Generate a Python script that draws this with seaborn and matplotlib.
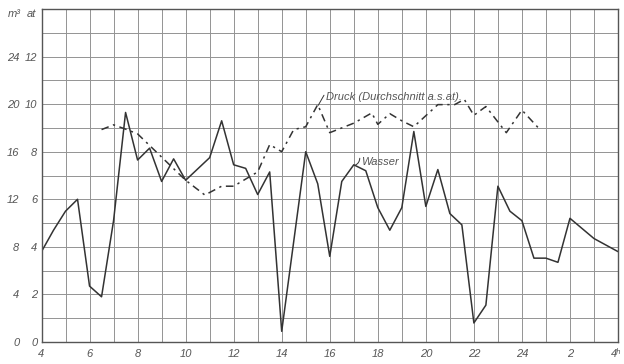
import matplotlib
matplotlib.use("Agg")
import matplotlib.pyplot as plt
import matplotlib.transforms as mtransforms
import seaborn as sns
import pandas as pd
import numpy as np

# ---- data -------------------------------------------------------------
# hours (continuous from 4 h of one day to 4 h of the next; 25 = 1 h, 28 = 4 h)
wasser_h = [4.0, 4.5, 5.0, 5.5, 6.0, 6.5, 7.0, 7.5, 8.0, 8.5, 9.0, 9.5, 10.0,
            11.0, 11.5, 12.0, 12.5, 13.0, 13.5, 14.0, 15.0, 15.5, 16.0, 16.5,
            17.0, 17.5, 18.0, 18.5, 19.0, 19.5, 20.0, 20.5, 21.0, 21.5, 22.0,
            22.5, 23.0, 23.5, 24.0, 24.5, 25.0, 25.5, 26.0, 27.0, 28.0]
wasser_m3 = [7.6, 9.4, 11.0, 12.0, 4.7, 3.8, 10.2, 19.3, 15.3, 16.3, 13.5, 15.4, 13.6,
             15.5, 18.6, 14.9, 14.6, 12.4, 14.3, 0.9, 16.0, 13.3, 7.2, 13.5,
             14.9, 14.4, 11.3, 9.4, 11.3, 17.7, 11.4, 14.5, 10.8, 9.85, 1.6,
             3.1, 13.1, 11.0, 10.2, 7.05, 7.05, 6.7, 10.4, 8.7, 7.6]

druck_h = [6.5, 7.0, 7.5, 8.0, 10.0, 10.8, 11.5, 12.0, 13.0, 13.5, 14.0, 14.5,
           15.0, 15.5, 16.0, 17.0, 17.75, 18.0, 18.5, 19.0, 19.5, 20.5, 21.2,
           21.6, 22.0, 22.5, 23.35, 24.0, 24.75]
druck_at = [8.93, 9.13, 8.95, 8.75, 6.8, 6.18, 6.55, 6.55, 7.15, 8.3, 8.0, 8.93,
            9.05, 9.98, 8.8, 9.2, 9.63, 9.15, 9.6, 9.3, 9.05, 9.98, 9.98,
            10.2, 9.53, 9.9, 8.8, 9.75, 8.93]

x_ticks = [4, 6, 8, 10, 12, 14, 16, 18, 20, 22, 24, 26, 28]
x_labels = ["4", "6", "8", "10", "12", "14", "16", "18", "20", "22", "24", "2", "4ʰ"]
m3_ticks = [0, 4, 8, 12, 16, 20, 24]
at_ticks = [0, 2, 4, 6, 8, 10, 12]

df_w = pd.DataFrame({"h": wasser_h, "v": wasser_m3})
df_d = pd.DataFrame({"h": druck_h, "v": druck_at})

# ---- style ------------------------------------------------------------
sns.set_theme(style="white")
plt.rcParams["font.family"] = ["Liberation Sans", "DejaVu Sans"]
txt_col = "#555555"
line_col = "#333333"
grid_col = "#939393"

fig = plt.figure(figsize=(6.24, 3.64), dpi=100)
ax = fig.add_axes([41.5 / 624, 22 / 364, (618 - 41.5) / 624, (342 - 9) / 364])
ax2 = ax.twinx()

sns.lineplot(data=df_w, x="h", y="v", ax=ax, color=line_col, linewidth=1.1,
             sort=False, estimator=None)
sns.lineplot(data=df_d, x="h", y="v", ax=ax2, color=line_col, linewidth=1.1,
             sort=False, estimator=None, dashes=False)
for l in ax2.get_lines():
    l.set_linestyle((0, (5, 3, 1.5, 3)))

ax.set_xlim(4, 28)
ax.set_ylim(0, 28)
ax2.set_ylim(0, 14)

# grid: every hour, every 2 m3
ax.set_xticks(np.arange(4, 29, 1), minor=True)
ax.set_yticks(np.arange(0, 29, 2), minor=True)
ax.grid(which="minor", color=grid_col, linewidth=0.7)
ax.grid(which="major", color=grid_col, linewidth=0.7)
ax.set_axisbelow(True)

ax.set_xticks(x_ticks)
ax.set_xticklabels(x_labels, fontstyle="italic", color=txt_col, fontsize=8)
ax.set_yticks(m3_ticks)
ax.set_yticklabels([str(t) for t in m3_ticks], fontstyle="italic", color=txt_col, fontsize=8)
ax.tick_params(axis="both", which="both", length=0)
ax.tick_params(axis="x", pad=5)
ax.tick_params(axis="y", pad=16)

# shift the last x label ("4ʰ") left so that it stays inside the figure
last = ax.get_xticklabels()[-1]
last.set_transform(last.get_transform() +
                   mtransforms.ScaledTranslation(-2 / 100, 0, fig.dpi_scale_trans))

ax2.yaxis.tick_left()
ax2.set_yticks(at_ticks)
ax2.set_yticklabels([str(t) for t in at_ticks], fontstyle="italic", color=txt_col, fontsize=8)
ax2.tick_params(axis="y", length=0, pad=3)
ax2.set_ylabel("")
ax.set_xlabel("")
ax.set_ylabel("")
for s in ax2.spines.values():
    s.set_visible(False)
for s in ax.spines.values():
    s.set_color("#555555")
    s.set_linewidth(1.0)

# unit labels
fig.text(8 / 624, 1 - 14 / 364, "m³", fontstyle="italic", color=txt_col, fontsize=8,
         ha="left", va="center")
fig.text(27 / 624, 1 - 14 / 364, "at", fontstyle="italic", color=txt_col, fontsize=8,
         ha="left", va="center")

# annotations (short leader ticks + labels)
ax.annotate("", xy=(15.52, 19.9), xytext=(15.76, 20.75),
            arrowprops=dict(arrowstyle="-", color=line_col, lw=0.7,
                            shrinkA=0, shrinkB=0))
ax.text(15.83, 20.6, "Druck (Durchschnitt a.s.at).", fontsize=8, fontstyle="italic",
        color=txt_col, ha="left", va="center")
ax.annotate("", xy=(17.05, 14.85), xytext=(17.25, 15.45),
            arrowprops=dict(arrowstyle="-", color=line_col, lw=0.7,
                            shrinkA=0, shrinkB=0,
                            connectionstyle="arc3,rad=-0.3"))
ax.text(17.3, 15.1, "Wasser", fontsize=8, fontstyle="italic",
        color=txt_col, ha="left", va="center")

fig.savefig("out.png", dpi=100, facecolor="white")
